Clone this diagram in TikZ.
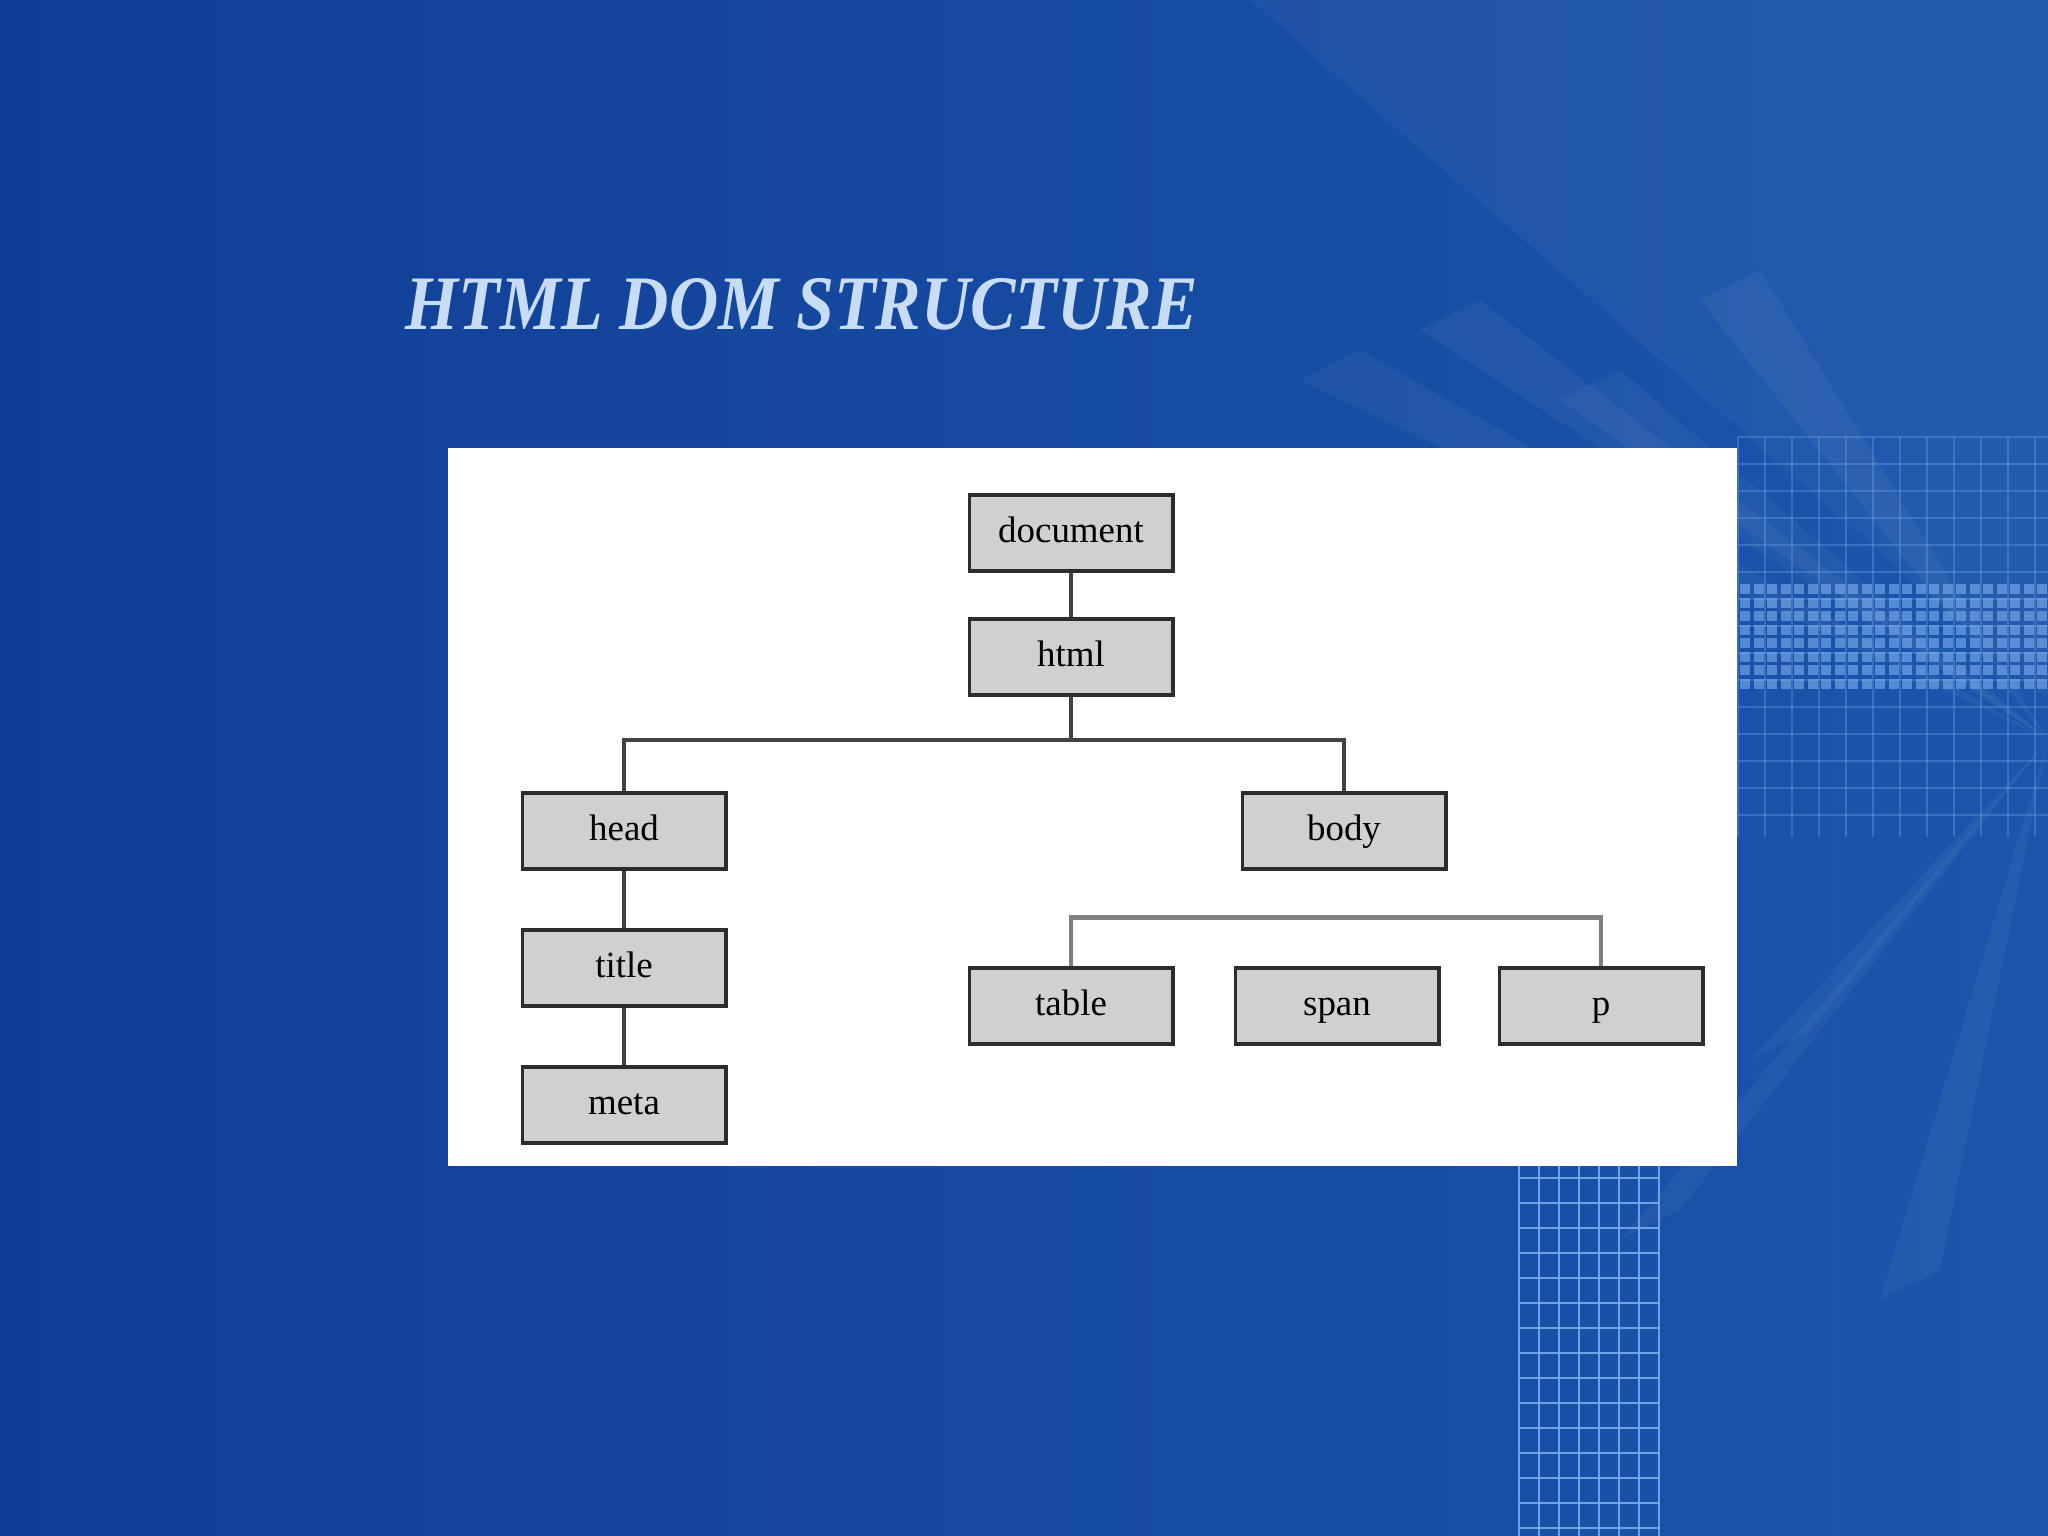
\documentclass[tikz,border=0pt]{standalone}
\usepackage{fontspec}
\setmainfont{Liberation Serif}
\usepackage{graphicx}
\usetikzlibrary{positioning,calc}

\definecolor{slideblue}{RGB}{16,62,150}
\definecolor{slidelight}{RGB}{28,86,172}
\definecolor{titleblue}{RGB}{200,220,246}
\definecolor{boxgray}{RGB}{208,208,208}
\definecolor{boxline}{RGB}{45,45,45}
\definecolor{gridblue}{RGB}{125,175,240}

\tikzset{
    domnode/.style={draw=boxline, fill=boxgray, line width=1.1pt,
        minimum width=2.03cm, minimum height=0.76cm, inner sep=0pt,
        text height=1.5ex, text depth=0.3ex,
        font=\fontsize{10.5}{12}\selectfont},
    link/.style={draw=boxline!90, line width=0.9pt},
    widelink/.style={draw=black!50, line width=1.4pt},
    ray/.style={fill=white, opacity=0.045}
}

\begin{document}
\begin{tikzpicture}[x=0.01cm, y=-0.01cm]
    % slide background
    \shade[left color=slideblue, right color=slidelight] (0,0) rectangle (2048,1536);
    \useasboundingbox (0,0) rectangle (2048,1536);
    \fill[white, opacity=0.035] (1250,0) -- (2048,0) -- (2048,700) -- cycle;
    \foreach \a/\b in {1300/380, 1420/330, 1560/400, 1700/300, 1750/1060, 1620/1240, 1880/1300}
        \fill[ray] (2048,740) -- (\a,\b) -- ++(60,-30) -- cycle;
    % grids on the right
    \foreach \gx in {1738,1765,...,2048}
        \draw[gridblue, opacity=0.3, line width=0.6pt] (\gx,437) -- (\gx,837);
    \foreach \gy in {437,464,...,837}
        \draw[gridblue, opacity=0.3, line width=0.6pt] (1738,\gy) -- (2048,\gy);
    \foreach \row in {584,597.5,...,680}
        \foreach \col in {1740,1753.5,...,2040}
            \fill[gridblue, opacity=0.6] (\col,\row) rectangle ++(10,10);
    \foreach \gx in {1519,1539,...,1660}
        \draw[gridblue, opacity=0.85, line width=0.7pt] (\gx,1166) -- (\gx,1536);
    \foreach \gy in {1178,1203,...,1536}
        \draw[gridblue, opacity=0.85, line width=0.7pt] (1519,\gy) -- (1659,\gy);

    % title
    \node[anchor=base west, text=titleblue, inner sep=0pt,
        font=\fontsize{19.4}{22}\selectfont\bfseries\itshape] (heading) at (405,329)
        {\scalebox{1}[1.13]{HTML DOM STRUCTURE}};

    % white panel with the tree
    \fill[white] (448,448) rectangle (1737,1166);

    \node[domnode] (document) at (1071,533) {document};
    \node[domnode] (html) at (1071,657) {html};
    \node[domnode] (head) at (624,831) {head};
    \node[domnode] (body) at (1344,831) {body};
    \node[domnode] (title) at (624,968) {title};
    \node[domnode] (meta) at (624,1105) {meta};
    \node[domnode] (table) at (1071,1006) {table};
    \node[domnode] (span) at (1337,1006) {span};
    \node[domnode] (p) at (1601,1006) {p};

    \coordinate (fork) at (1071,740);
    \draw[link] (document) -- (html);
    \draw[link] (html) -- (fork);
    \draw[link] (fork) -| (head);
    \draw[link] (fork) -| (body);
    \draw[link] (head) -- (title);
    \draw[link] (title) -- (meta);
    \draw[widelink] (table.north) -- ++(0,-49) -| (p.north);
\end{tikzpicture}
\end{document}
